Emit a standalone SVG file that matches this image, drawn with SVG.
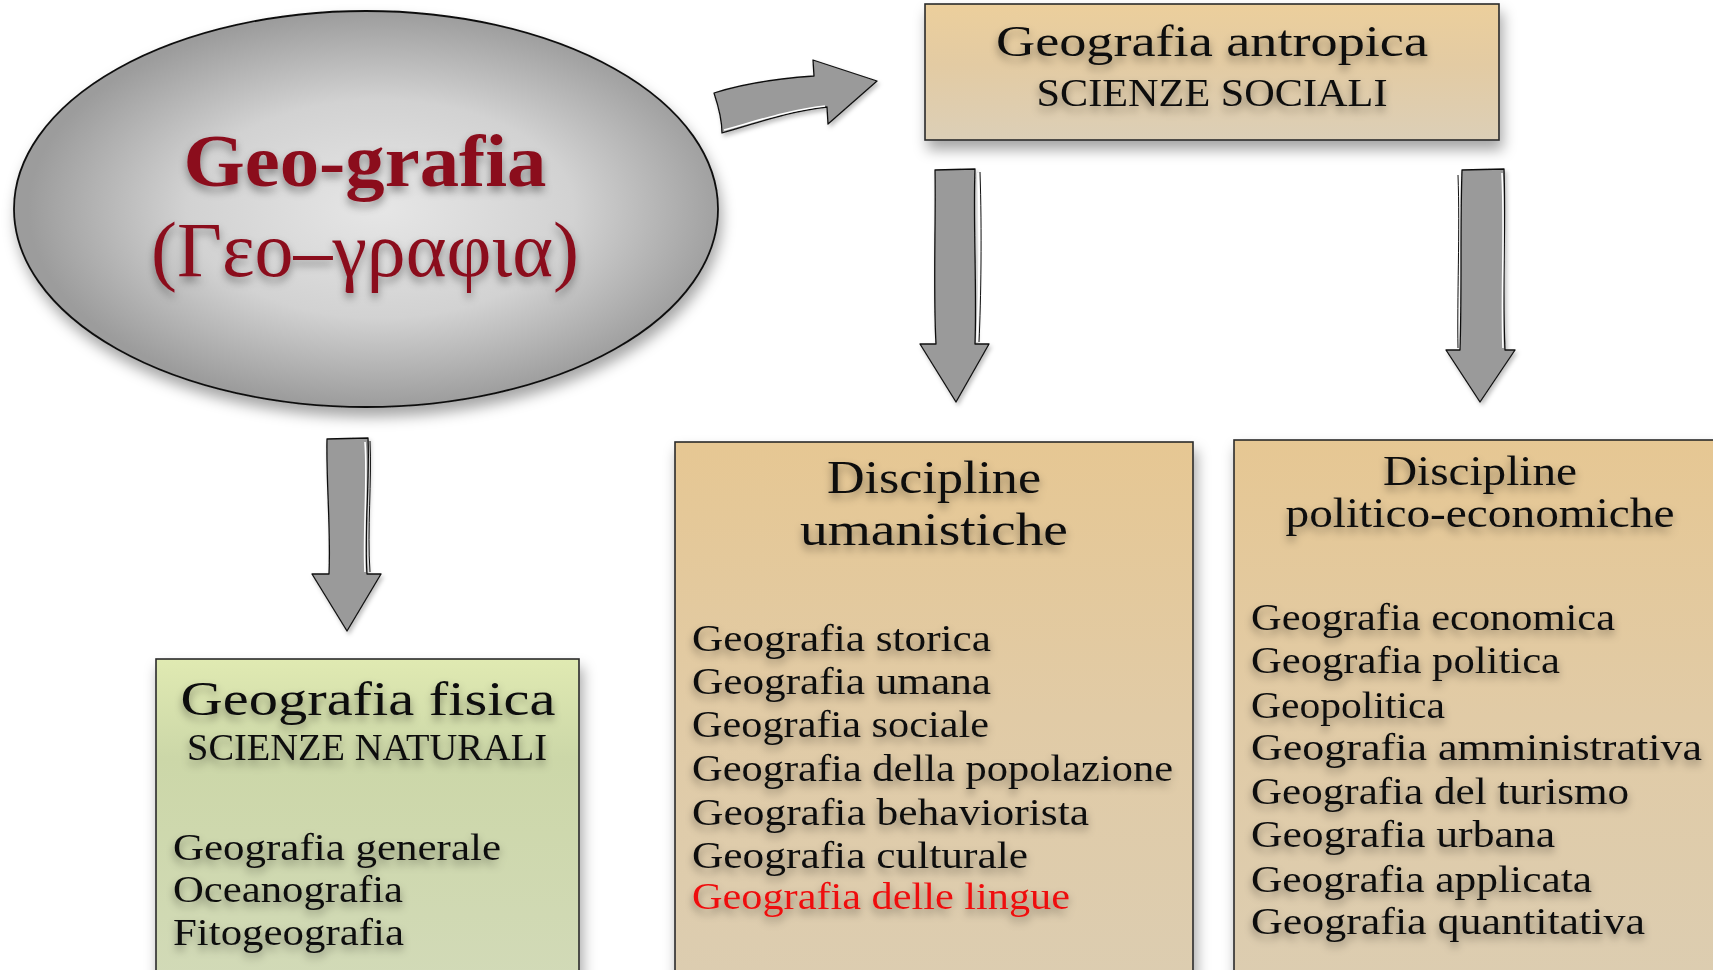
<svg xmlns="http://www.w3.org/2000/svg" width="1713" height="970" viewBox="0 0 1713 970">
<defs>
<radialGradient id="ellG" cx="0.52" cy="0.5" r="0.5">
<stop offset="0" stop-color="#e6e6e6"/>
<stop offset="0.55" stop-color="#d2d2d2"/>
<stop offset="1" stop-color="#9c9c9c"/>
</radialGradient>
<linearGradient id="tanG" x1="0" y1="0" x2="0" y2="1">
<stop offset="0" stop-color="#eccf9c"/>
<stop offset="0.45" stop-color="#e3cba3"/>
<stop offset="1" stop-color="#dccfb7"/>
</linearGradient>
<linearGradient id="tanTall" x1="0" y1="0" x2="0" y2="1">
<stop offset="0" stop-color="#e6c793"/>
<stop offset="0.5" stop-color="#e1cba6"/>
<stop offset="1" stop-color="#dccdb1"/>
</linearGradient>
<linearGradient id="greenG" x1="0" y1="0" x2="0" y2="1">
<stop offset="0" stop-color="#e0eab2"/>
<stop offset="0.3" stop-color="#ccd7a8"/>
<stop offset="1" stop-color="#d2dab8"/>
</linearGradient>
<filter id="boxSh" x="-10%" y="-10%" width="125%" height="130%">
<feDropShadow dx="3" dy="9" stdDeviation="7" flood-color="#000" flood-opacity="0.35"/>
</filter>
<filter id="txtSh" x="-10%" y="-30%" width="120%" height="180%">
<feDropShadow dx="0" dy="5" stdDeviation="4" flood-color="#000" flood-opacity="0.4"/>
</filter>
<filter id="arrSh" x="-20%" y="-20%" width="140%" height="140%">
<feDropShadow dx="2" dy="3" stdDeviation="2" flood-color="#000" flood-opacity="0.25"/>
</filter>
</defs>
<style>
.t{font-family:"Liberation Serif","DejaVu Serif",serif;fill:#111;filter:url(#txtSh)}
.red{fill:#ee1111}
.title{fill:#8b0f1f;font-family:"Liberation Serif","DejaVu Serif",serif;filter:url(#txtSh)}
.box{stroke:#2a2a2a;stroke-width:1.6;filter:url(#boxSh)}
.arr{fill:#9a9a9a;stroke:#111;stroke-width:1.3;stroke-linejoin:round;filter:url(#arrSh)}
.hl{fill:none;stroke:#fff;stroke-width:1.6}
.hb{fill:none;stroke:#111;stroke-width:1}
</style>
<rect width="1713" height="970" fill="#fff"/>

<g id="connectors">
<g id="arrow-right">
<path class="arr" d="M714,93 C745,83 785,78 814,76 L813,60 L877,81 L828,124 L827,107 C790,111 760,122 722,133 C722,120 718,105 714,93 Z"/>
<path class="hl" d="M724,130 C760,120 790,110 825,106"/>
</g>
<g id="arrow-down-1">
<path class="arr" d="M935,170 L975,169 C973,220 977,290 975,344 L989,344 L956,402 L920,344 L936,344 C933,290 936,220 935,170 Z"/>
<path class="hl" d="M978,173 C980,230 979,300 977,342"/>
<path class="hb" d="M980,172 C982,230 981,300 979,342"/>
</g>
<g id="arrow-down-2">
<path class="arr" d="M1462,170 L1504,169 C1506,230 1502,290 1505,350 L1515,350 L1480,402 L1446,350 L1460,350 C1462,290 1460,230 1462,170 Z"/>
<path class="hl" d="M1502,173 C1505,230 1501,290 1503,348"/>
<path class="hb" d="M1458,175 C1460,230 1457,300 1458,348"/>
</g>
<g id="arrow-down-3">
<path class="arr" d="M327,439 L368,438 C370,480 364,530 367,574 L381,574 L347,631 L312,574 L329,574 C331,530 326,480 327,439 Z"/>
<path class="hl" d="M365,442 C368,480 363,530 365,572"/>
<path class="hb" d="M370,441 C372,480 367,530 370,572"/>
</g>
</g>

<g id="node-geografia">
<ellipse cx="366" cy="209" rx="352" ry="198" fill="url(#ellG)" stroke="#111" stroke-width="1.8" filter="url(#boxSh)"/>
<text class="title" x="365" y="186" font-size="74" style="font-weight:bold" text-anchor="middle" textLength="363" lengthAdjust="spacingAndGlyphs">Geo-grafia</text>
<text class="title" x="365" y="276" font-size="78" style="font-weight:normal" text-anchor="middle" textLength="428" lengthAdjust="spacingAndGlyphs">(Γεο–γραφια)</text>
</g>

<g id="node-antropica">
<rect class="box" x="925" y="4" width="574" height="136" fill="url(#tanG)"/>
<text class="t" x="1212" y="56" font-size="44" text-anchor="middle" textLength="432" lengthAdjust="spacingAndGlyphs">Geografia antropica</text>
<text class="t" x="1212" y="106" font-size="39" text-anchor="middle" textLength="351" lengthAdjust="spacingAndGlyphs">SCIENZE SOCIALI</text>
</g>

<g id="node-fisica">
<rect class="box" x="156" y="659" width="423" height="330" fill="url(#greenG)"/>
<text class="t" x="368" y="715" font-size="48" text-anchor="middle" textLength="375" lengthAdjust="spacingAndGlyphs">Geografia fisica</text>
<text class="t" x="367" y="760" font-size="37" text-anchor="middle" textLength="360" lengthAdjust="spacingAndGlyphs">SCIENZE NATURALI</text>
<text class="t" x="173" y="860" font-size="38" textLength="328" lengthAdjust="spacingAndGlyphs">Geografia generale</text>
<text class="t" x="173" y="902" font-size="38" textLength="230" lengthAdjust="spacingAndGlyphs">Oceanografia</text>
<text class="t" x="173" y="945" font-size="38" textLength="231" lengthAdjust="spacingAndGlyphs">Fitogeografia</text>
</g>

<g id="node-umanistiche">
<rect class="box" x="675" y="442" width="518" height="550" fill="url(#tanTall)"/>
<text class="t" x="934" y="493" font-size="46" text-anchor="middle" textLength="214" lengthAdjust="spacingAndGlyphs">Discipline</text>
<text class="t" x="934" y="545" font-size="46" text-anchor="middle" textLength="268" lengthAdjust="spacingAndGlyphs">umanistiche</text>
<text class="t" x="692" y="651" font-size="38" textLength="299" lengthAdjust="spacingAndGlyphs">Geografia storica</text>
<text class="t" x="692" y="694" font-size="38" textLength="299" lengthAdjust="spacingAndGlyphs">Geografia umana</text>
<text class="t" x="692" y="737" font-size="38" textLength="297" lengthAdjust="spacingAndGlyphs">Geografia sociale</text>
<text class="t" x="692" y="781" font-size="38" textLength="481" lengthAdjust="spacingAndGlyphs">Geografia della popolazione</text>
<text class="t" x="692" y="825" font-size="38" textLength="397" lengthAdjust="spacingAndGlyphs">Geografia behaviorista</text>
<text class="t" x="692" y="868" font-size="38" textLength="336" lengthAdjust="spacingAndGlyphs">Geografia culturale</text>
<text class="t red" x="692" y="909" font-size="38" textLength="378" lengthAdjust="spacingAndGlyphs">Geografia delle lingue</text>
</g>

<g id="node-politico">
<rect class="box" x="1234" y="440" width="500" height="552" fill="url(#tanTall)"/>
<text class="t" x="1480" y="485" font-size="42" text-anchor="middle" textLength="194" lengthAdjust="spacingAndGlyphs">Discipline</text>
<text class="t" x="1480" y="527" font-size="42" text-anchor="middle" textLength="389" lengthAdjust="spacingAndGlyphs">politico-economiche</text>
<text class="t" x="1251" y="630" font-size="38" textLength="364" lengthAdjust="spacingAndGlyphs">Geografia economica</text>
<text class="t" x="1251" y="673" font-size="38" textLength="309" lengthAdjust="spacingAndGlyphs">Geografia politica</text>
<text class="t" x="1251" y="718" font-size="38" textLength="194" lengthAdjust="spacingAndGlyphs">Geopolitica</text>
<text class="t" x="1251" y="760" font-size="38" textLength="451" lengthAdjust="spacingAndGlyphs">Geografia amministrativa</text>
<text class="t" x="1251" y="804" font-size="38" textLength="378" lengthAdjust="spacingAndGlyphs">Geografia del turismo</text>
<text class="t" x="1251" y="847" font-size="38" textLength="304" lengthAdjust="spacingAndGlyphs">Geografia urbana</text>
<text class="t" x="1251" y="892" font-size="38" textLength="341" lengthAdjust="spacingAndGlyphs">Geografia applicata</text>
<text class="t" x="1251" y="934" font-size="38" textLength="394" lengthAdjust="spacingAndGlyphs">Geografia quantitativa</text>
</g>
</svg>
